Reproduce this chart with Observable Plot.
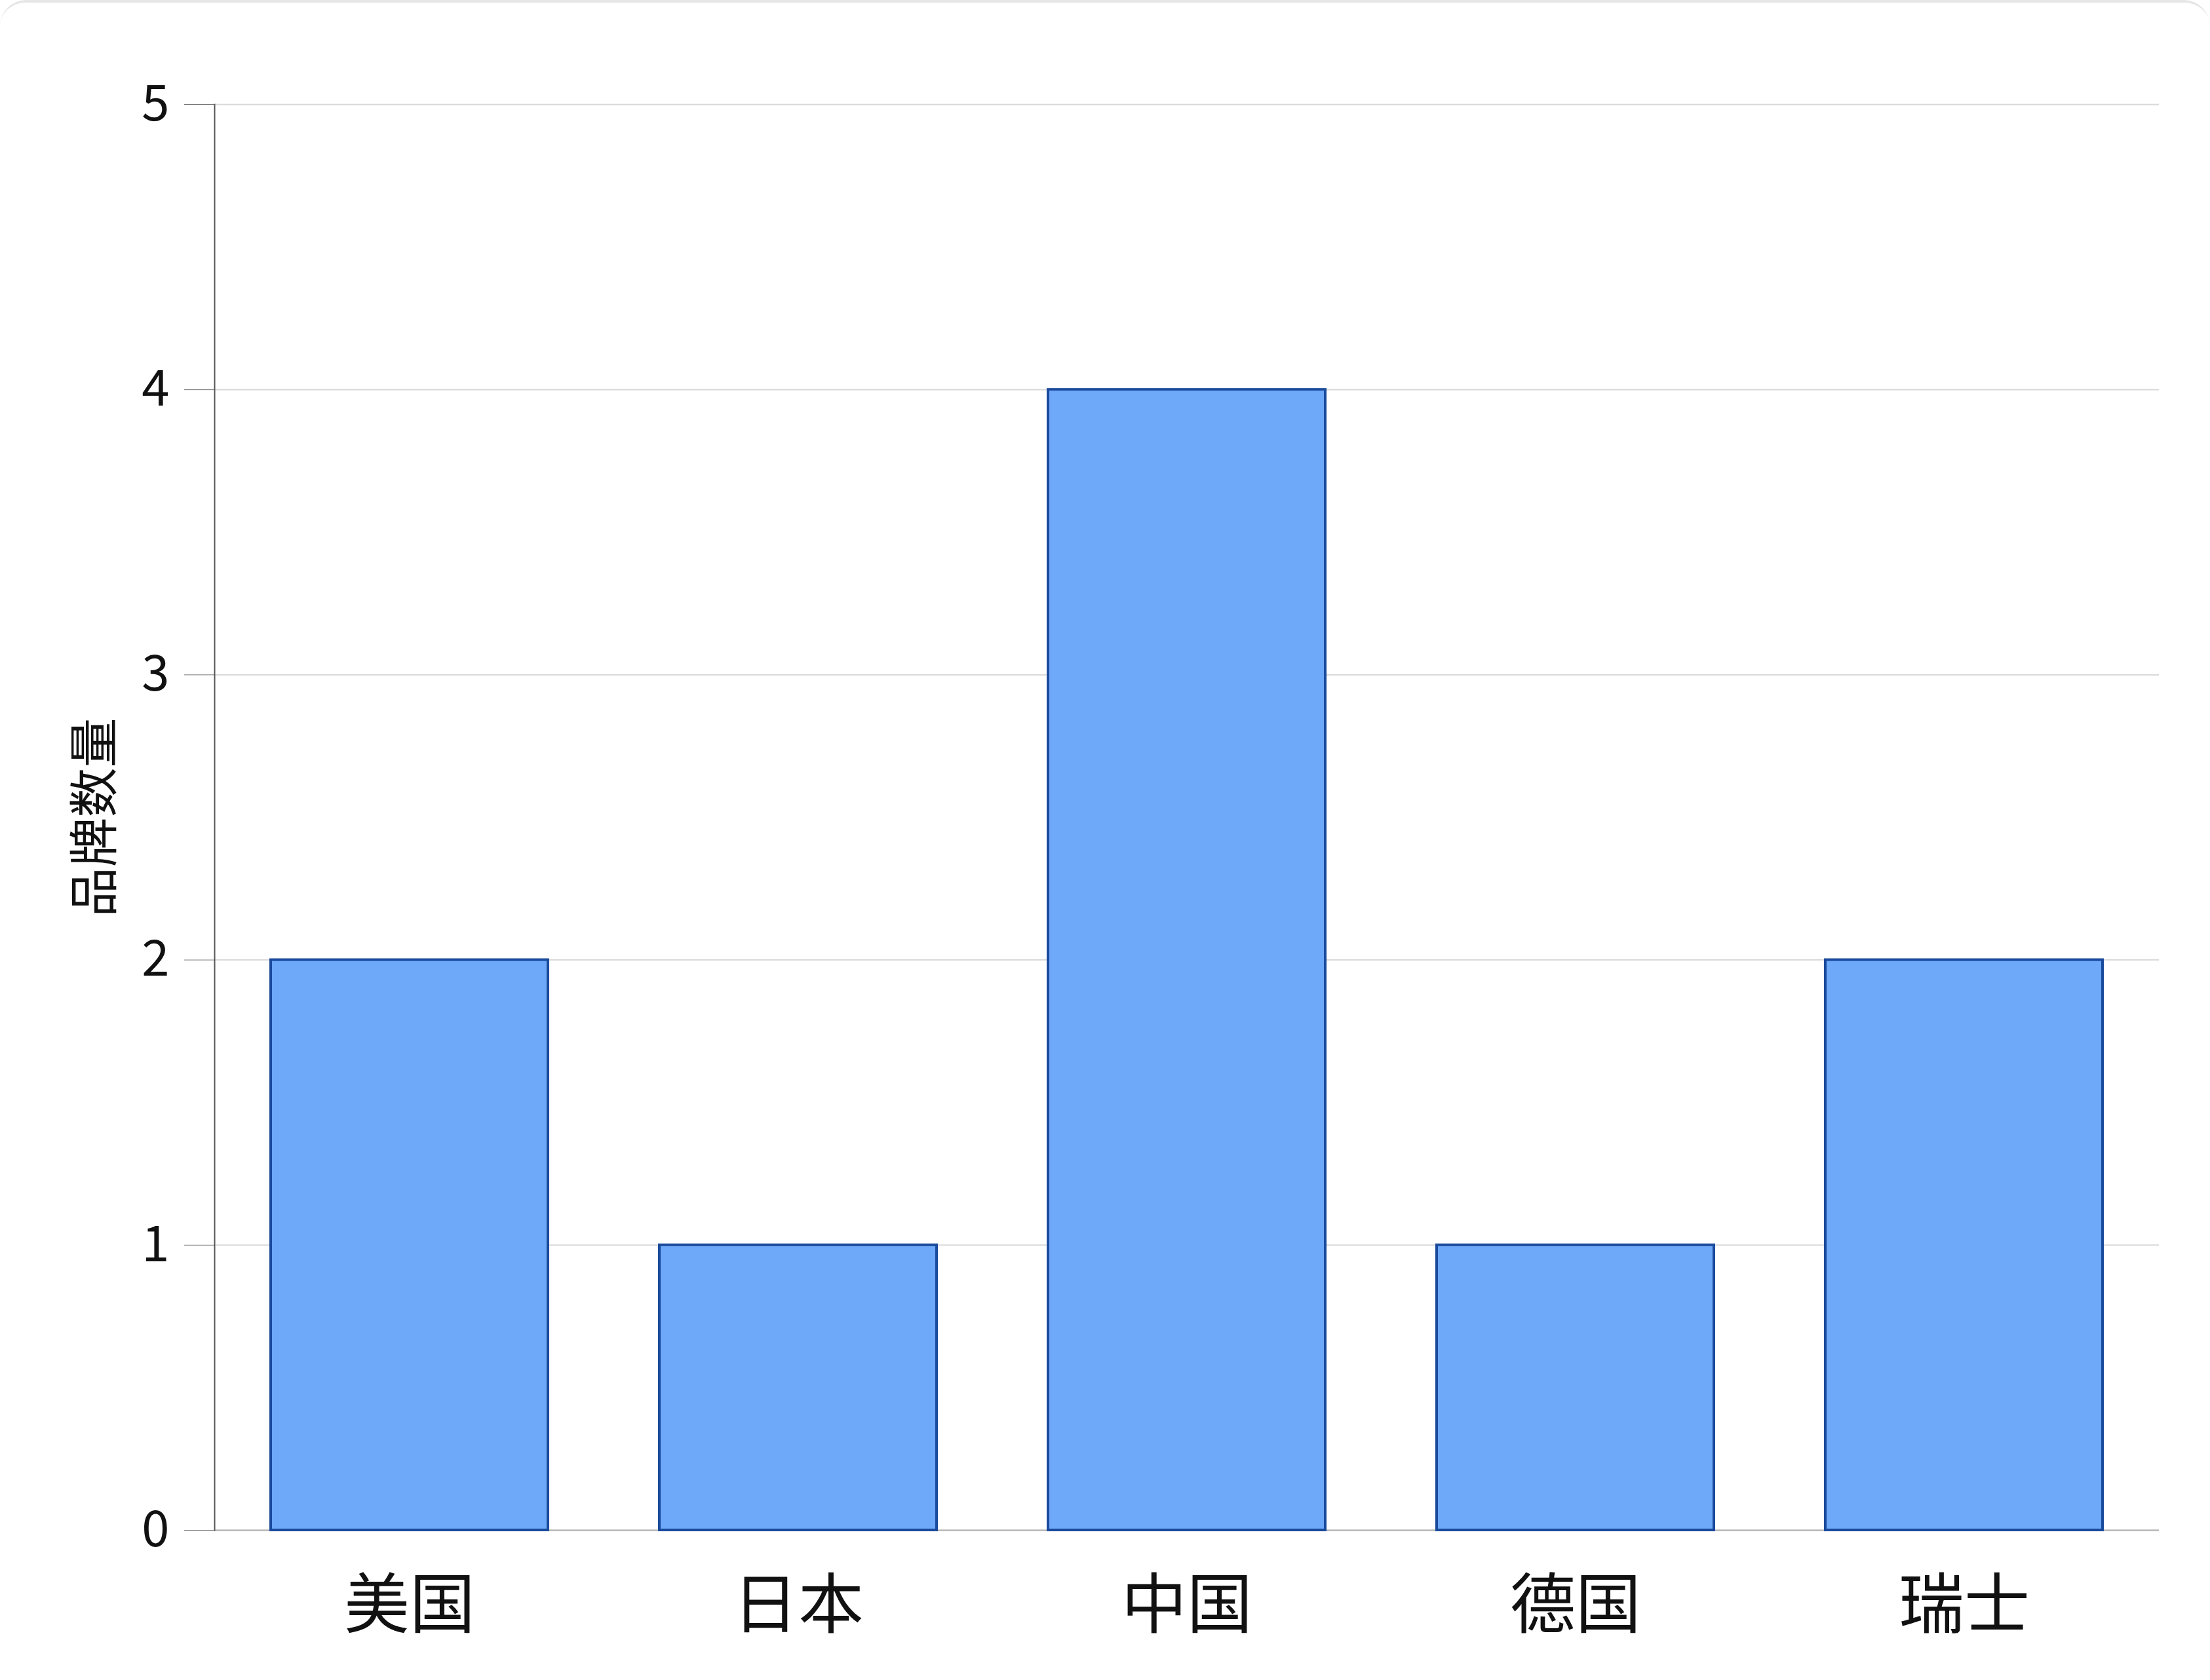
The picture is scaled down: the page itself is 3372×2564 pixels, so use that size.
<!DOCTYPE html>
<html><head><meta charset="utf-8">
<script src="https://cdn.jsdelivr.net/npm/d3@7"></script>
<script src="https://cdn.jsdelivr.net/npm/@observablehq/plot@0.6"></script>
<style>
html,body{margin:0;padding:0;background:#fff;}
#card{width:3372px;height:2564px;box-sizing:border-box;border-top:4px solid #e6e6e6;border-radius:40px;overflow:hidden;background:#fff;}
</style></head><body><div id="card"></div>
<script>
const countries = ["美国","日本","中国","德国","瑞士"];
const brandCounts = [2,1,4,1,2];
const yTicks = [0,1,2,3,4,5];
const data = countries.map((c,i)=>({country:c, count:brandCounts[i]}));
const chart = Plot.plot({
  width:3372, height:2560, marginTop:155, marginBottom:229, marginLeft:327, marginRight:78,
  style:{fontFamily:'"Noto Sans CJK SC", "Noto Sans", sans-serif', background:"white", color:"#111"},
  x:{domain:countries, paddingInner:0.286, paddingOuter:0.143, label:null},
  y:{domain:[0,5], ticks:yTicks, label:"品牌数量"},
  marks:[
    Plot.gridY(yTicks,{stroke:"#d9d9d9", strokeOpacity:1, strokeWidth:2}),
    Plot.ruleY([0],{stroke:"#b0b0b0", strokeWidth:2}),
    Plot.frame({anchor:"left", stroke:"#555", strokeWidth:2}),
    Plot.barY(data,{x:"country", y:"count", fill:"#6ea8f8", stroke:"#1a4a9c", strokeWidth:4}),
    Plot.axisY(yTicks,{tickSize:46, tickPadding:23, tickFormat:"d", stroke:"#777", fill:"#111", fontSize:76, label:"品牌数量", labelAnchor:"center", labelOffset:210, labelArrow:"none"}),
    Plot.axisX({tickSize:0, tickPadding:77, fontSize:100, fill:"#111"})
  ]
});
document.getElementById("card").appendChild(chart);
</script></body></html>
